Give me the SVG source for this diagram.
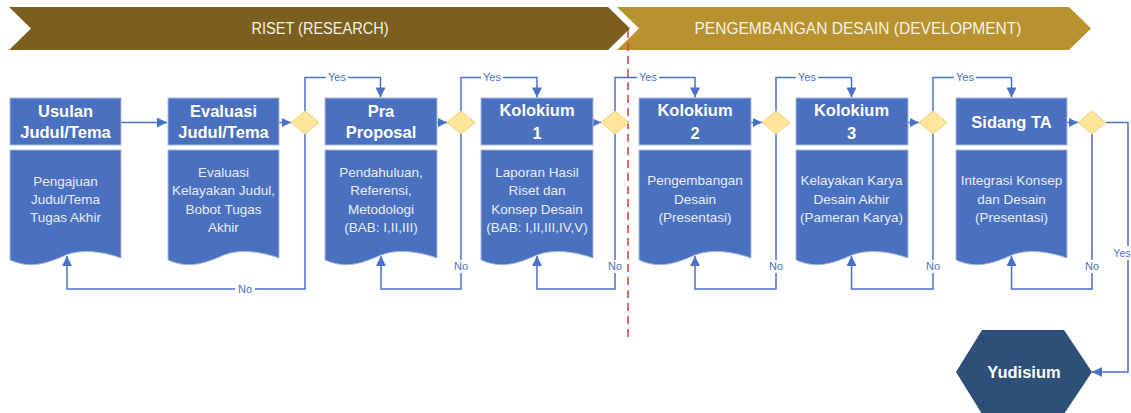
<svg xmlns="http://www.w3.org/2000/svg" width="1131" height="413" viewBox="0 0 1131 413">
<style>
.hdr{fill:#4A70C0;stroke:#A9B9DE;stroke-width:1}
.doc{fill:#4A70C0;stroke:#A9B9DE;stroke-width:1}
.dia{fill:#FFE699;stroke:#E8CF7A;stroke-width:1}
.ht{font-family:"Liberation Sans",Arial,sans-serif;font-weight:bold;font-size:16.5px;fill:#FFFFFF;text-anchor:middle}
.bt{font-family:"Liberation Sans",Arial,sans-serif;font-size:13.5px;fill:#E8ECF6;text-anchor:middle}
.ln{fill:none;stroke:#4A72C8;stroke-width:1.5}
.lbl{font-family:"Liberation Sans",Arial,sans-serif;font-size:11px;fill:#4A6FBF;text-anchor:middle}
.bn{font-family:"Liberation Sans",Arial,sans-serif;font-size:16px;fill:#F4F1E8;text-anchor:middle}
</style>
<defs>
<marker id="ah" viewBox="0 0 10 10" refX="10" refY="5" markerWidth="11" markerHeight="10" markerUnits="userSpaceOnUse" orient="auto">
<path d="M0,0 L10,5 L0,10 Z" fill="#4A72C8"/>
</marker>
<marker id="sh" viewBox="0 0 10 10" refX="10" refY="5" markerWidth="11" markerHeight="9" markerUnits="userSpaceOnUse" orient="auto">
<path d="M0,0 L10,5 L0,10 Z" fill="#4A72C8"/>
</marker>
</defs>
<rect width="1131" height="413" fill="#FFFFFF"/>
<g id="banner-research">
<polygon points="9,7 608,7 630,28.5 608,50 9,50 31,28.5" fill="#7B5F1E"/>
<text class="bn" x="320" y="34" textLength="137" lengthAdjust="spacingAndGlyphs">RISET (RESEARCH)</text>
</g>
<g id="banner-development">
<polygon points="617,7 1069,7 1091,28.5 1069,50 617,50 639,28.5" fill="#B8922F"/>
<text class="bn" x="858" y="34" textLength="327" lengthAdjust="spacingAndGlyphs">PENGEMBANGAN DESAIN (DEVELOPMENT)</text>
</g>
<line id="divider" x1="628" y1="30" x2="628" y2="340" stroke="#E03A3A" stroke-width="1.5" stroke-dasharray="8,5"/>
<g id="connectors">
<path class="ln" d="M121,122.5 H167" marker-end="url(#ah)"/>
<path class="ln" d="M279,122.5 H291" marker-end="url(#sh)"/>
<path class="ln" d="M437,122.5 H447" marker-end="url(#sh)"/>
<path class="ln" d="M593,122.5 H601" marker-end="url(#sh)"/>
<path class="ln" d="M751,122.5 H762" marker-end="url(#sh)"/>
<path class="ln" d="M908,122.5 H919" marker-end="url(#sh)"/>
<path class="ln" d="M1067,122.5 H1078" marker-end="url(#sh)"/>
<path class="ln" d="M305,111 V77.5 H380.5 V97.5" marker-end="url(#ah)"/>
<path class="ln" d="M461,111 V77.5 H537 V97.5" marker-end="url(#ah)"/>
<path class="ln" d="M615,111 V77.5 H695 V97.5" marker-end="url(#ah)"/>
<path class="ln" d="M776,111 V77.5 H851.5 V97.5" marker-end="url(#ah)"/>
<path class="ln" d="M933,111 V77.5 H1011.5 V97.5" marker-end="url(#ah)"/>
<path class="ln" d="M1106,122.5 H1128 V372 H1092" marker-end="url(#ah)"/>
<path class="ln" d="M305,134 V289 H67 V256" marker-end="url(#ah)"/>
<path class="ln" d="M461,134 V289 H381 V256" marker-end="url(#ah)"/>
<path class="ln" d="M615,134 V289 H537 V256" marker-end="url(#ah)"/>
<path class="ln" d="M776,134 V289 H695 V256" marker-end="url(#ah)"/>
<path class="ln" d="M933,134 V289 H851.5 V256" marker-end="url(#ah)"/>
<path class="ln" d="M1092,134 V289 H1011.5 V256" marker-end="url(#ah)"/>
<g id="labels">
<rect x="326" y="71" width="22" height="12" fill="#FFFFFF"/><text class="lbl" x="337" y="81">Yes</text>
<rect x="481" y="71" width="22" height="12" fill="#FFFFFF"/><text class="lbl" x="492" y="81">Yes</text>
<rect x="637" y="71" width="22" height="12" fill="#FFFFFF"/><text class="lbl" x="648" y="81">Yes</text>
<rect x="796" y="71" width="22" height="12" fill="#FFFFFF"/><text class="lbl" x="807" y="81">Yes</text>
<rect x="954" y="71" width="22" height="12" fill="#FFFFFF"/><text class="lbl" x="965" y="81">Yes</text>
<rect x="1112" y="246" width="19" height="14" fill="#FFFFFF"/><text class="lbl" x="1130.5" y="257" style="text-anchor:end;font-size:10.5px">Yes</text>
<rect x="235" y="283" width="20" height="12" fill="#FFFFFF"/><text class="lbl" x="245" y="293">No</text>
<rect x="452" y="260" width="18" height="13" fill="#FFFFFF"/><text class="lbl" x="461" y="270">No</text>
<rect x="606" y="260" width="18" height="13" fill="#FFFFFF"/><text class="lbl" x="615" y="270">No</text>
<rect x="767" y="260" width="18" height="13" fill="#FFFFFF"/><text class="lbl" x="776" y="270">No</text>
<rect x="924" y="260" width="18" height="13" fill="#FFFFFF"/><text class="lbl" x="933" y="270">No</text>
<rect x="1083" y="260" width="18" height="13" fill="#FFFFFF"/><text class="lbl" x="1092" y="270">No</text>
</g>
</g>
<g id="n1">
<rect class="hdr" x="10" y="98" width="111" height="47"/>
<text class="ht" x="65.5" y="117">Usulan</text>
<text class="ht" x="65.5" y="138">Judul/Tema</text>
<path class="doc" d="M10,150 H121 V258 C101,251 81,249 66,255 C50,262 32,270 10,260 Z"/>
<text class="bt" x="65.5" y="186">Pengajuan</text>
<text class="bt" x="65.5" y="204">Judul/Tema</text>
<text class="bt" x="65.5" y="222">Tugas Akhir</text>
</g>
<g id="n2">
<rect class="hdr" x="168" y="98" width="111" height="47"/>
<text class="ht" x="223.5" y="117">Evaluasi</text>
<text class="ht" x="223.5" y="138">Judul/Tema</text>
<path class="doc" d="M168,150 H279 V258 C259,251 239,249 224,255 C208,262 190,270 168,260 Z"/>
<text class="bt" x="223.5" y="177">Evaluasi</text>
<text class="bt" x="223.5" y="195">Kelayakan Judul,</text>
<text class="bt" x="223.5" y="214">Bobot Tugas</text>
<text class="bt" x="223.5" y="232">Akhir</text>
</g>
<g id="d1"><polygon class="dia" points="305,111 319,122.5 305,134 291,122.5"/></g>
<g id="n3">
<rect class="hdr" x="325" y="98" width="112" height="47"/>
<text class="ht" x="381" y="117">Pra</text>
<text class="ht" x="381" y="138">Proposal</text>
<path class="doc" d="M325,150 H437 V258 C417,251 397,249 381,255 C365,262 347,270 325,260 Z"/>
<text class="bt" x="381" y="177">Pendahuluan,</text>
<text class="bt" x="381" y="195">Referensi,</text>
<text class="bt" x="381" y="214">Metodologi</text>
<text class="bt" x="381" y="232">(BAB: I,II,III)</text>
</g>
<g id="d2"><polygon class="dia" points="461,111 475,122.5 461,134 447,122.5"/></g>
<g id="n4">
<rect class="hdr" x="481" y="98" width="112" height="47"/>
<text class="ht" x="537" y="116">Kolokium</text>
<text class="ht" x="537" y="139">1</text>
<path class="doc" d="M481,150 H593 V258 C573,251 553,249 537,255 C521,262 503,270 481,260 Z"/>
<text class="bt" x="537" y="177">Laporan Hasil</text>
<text class="bt" x="537" y="195">Riset dan</text>
<text class="bt" x="537" y="214">Konsep Desain</text>
<text class="bt" x="537" y="232">(BAB: I,II,III,IV,V)</text>
</g>
<g id="d3"><polygon class="dia" points="615,111 629,122.5 615,134 601,122.5"/></g>
<g id="n5">
<rect class="hdr" x="639" y="98" width="112" height="47"/>
<text class="ht" x="695" y="116">Kolokium</text>
<text class="ht" x="695" y="139">2</text>
<path class="doc" d="M639,150 H751 V258 C731,251 711,249 695,255 C679,262 661,270 639,260 Z"/>
<text class="bt" x="695" y="185">Pengembangan</text>
<text class="bt" x="695" y="204">Desain</text>
<text class="bt" x="695" y="222">(Presentasi)</text>
</g>
<g id="d4"><polygon class="dia" points="776,111 790,122.5 776,134 762,122.5"/></g>
<g id="n6">
<rect class="hdr" x="796" y="98" width="112" height="47"/>
<text class="ht" x="851.5" y="116">Kolokium</text>
<text class="ht" x="851.5" y="139">3</text>
<path class="doc" d="M796,150 H908 V258 C888,251 868,249 852,255 C836,262 818,270 796,260 Z"/>
<text class="bt" x="851.5" y="185">Kelayakan Karya</text>
<text class="bt" x="851.5" y="204">Desain Akhir</text>
<text class="bt" x="851.5" y="222">(Pameran Karya)</text>
</g>
<g id="d5"><polygon class="dia" points="933,111 947,122.5 933,134 919,122.5"/></g>
<g id="n7">
<rect class="hdr" x="956" y="98" width="111" height="47"/>
<text class="ht" x="1011.5" y="128">Sidang TA</text>
<path class="doc" d="M956,150 H1067 V258 C1047,251 1027,249 1012,255 C996,262 978,270 956,260 Z"/>
<text class="bt" x="1011.5" y="185">Integrasi Konsep</text>
<text class="bt" x="1011.5" y="204">dan Desain</text>
<text class="bt" x="1011.5" y="222">(Presentasi)</text>
</g>
<g id="d6"><polygon class="dia" points="1092,111 1106,122.5 1092,134 1078,122.5"/></g>
<g id="n8">
<polygon points="956,372 982,330 1064,330 1092,372 1064,414 982,414" fill="#2E5078"/>
<text class="ht" x="1024" y="378">Yudisium</text>
</g>
</svg>
